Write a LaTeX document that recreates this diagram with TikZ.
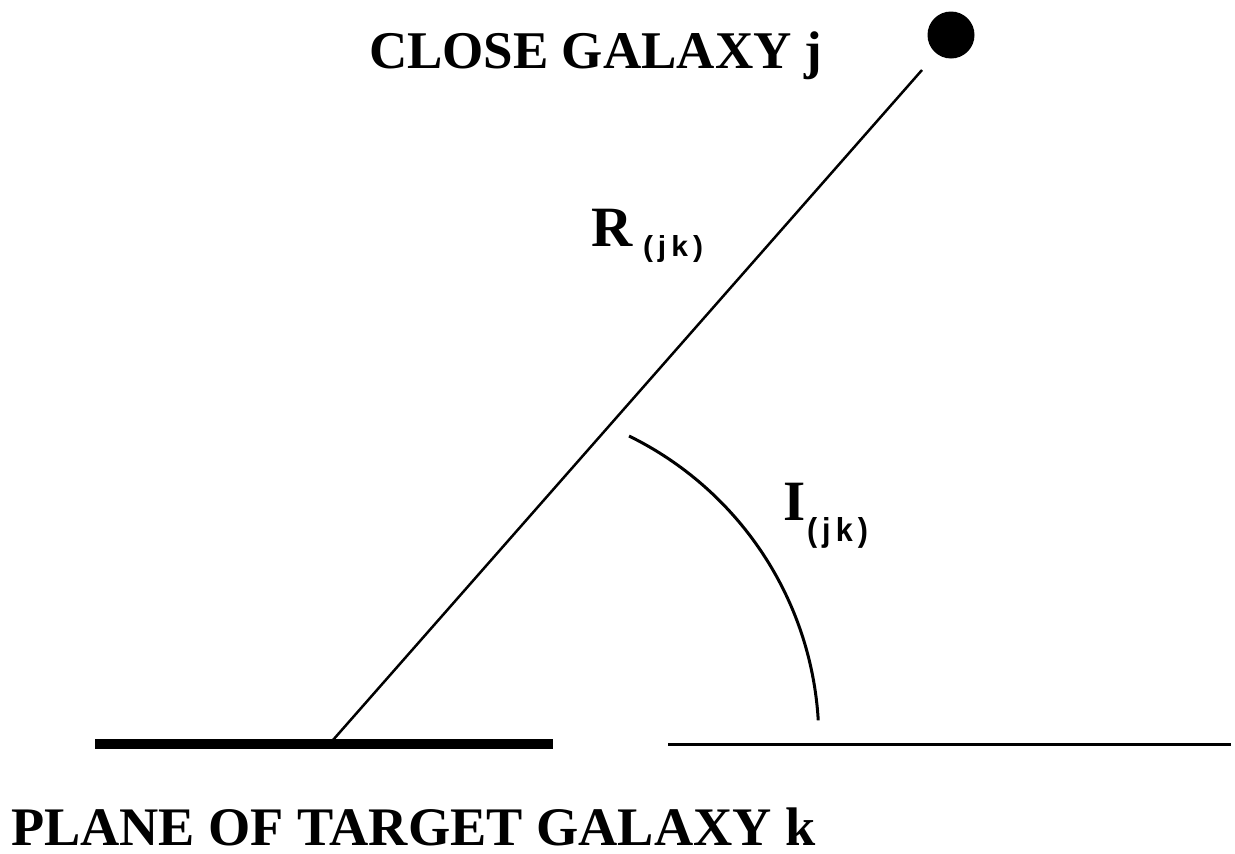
\documentclass[tikz,border=0pt]{standalone}
\usepackage{fontspec}
\setmainfont{Liberation Serif}
\newfontfamily\subsans{Liberation Sans}
\begin{document}
\begin{tikzpicture}[x=1pt,y=-1pt,
  lbl/.style={inner sep=0pt, outer sep=0pt, anchor=base west},
  sub/.style={inner sep=0pt, outer sep=0pt, anchor=base west, font=\subsans\bfseries}]
\useasboundingbox (0,0) rectangle (1235,854);
% plane lines
\coordinate (pl1) at (95,744);
\coordinate (pl2) at (553,744);
\coordinate (pr1) at (668,744);
\coordinate (pr2) at (1231,744);
\draw[line width=10pt] (pl1) -- (pl2);
\draw[line width=3pt] (pr1) -- (pr2);
% radius line
\coordinate (base) at (333,740);
\coordinate (top) at (922,70);
\draw[line width=2.5pt] (base) -- (top);
% close galaxy dot
\node[circle, fill=black, minimum size=47pt, inner sep=0pt] (gal) at (951,35) {};
% angle arc
\coordinate (arcstart) at (629,436);
\draw[line width=3pt] (arcstart) arc[start angle=-63.9, end angle=-3.4, radius=339];
% labels
\node[lbl, font=\fontsize{53}{60}\selectfont\bfseries] (close) at (369,68) {CLOSE GALAXY j};
\node[lbl, font=\fontsize{54.3}{60}\selectfont\bfseries] (plane) at (11,845) {PLANE OF TARGET GALAXY k};
\node[lbl, font=\fontsize{57}{60}\selectfont\bfseries] (R) at (591,246) {R};
\node[sub] (Rsub) at (643,256) {\resizebox{60pt}{21pt}{(\,j\,k\,)}};
\node[lbl, font=\fontsize{57}{60}\selectfont\bfseries] (I) at (783,520) {I};
\node[sub] (Isub) at (807,541) {\resizebox{61pt}{24pt}{(\,j\,k\,)}};
\end{tikzpicture}
\end{document}
